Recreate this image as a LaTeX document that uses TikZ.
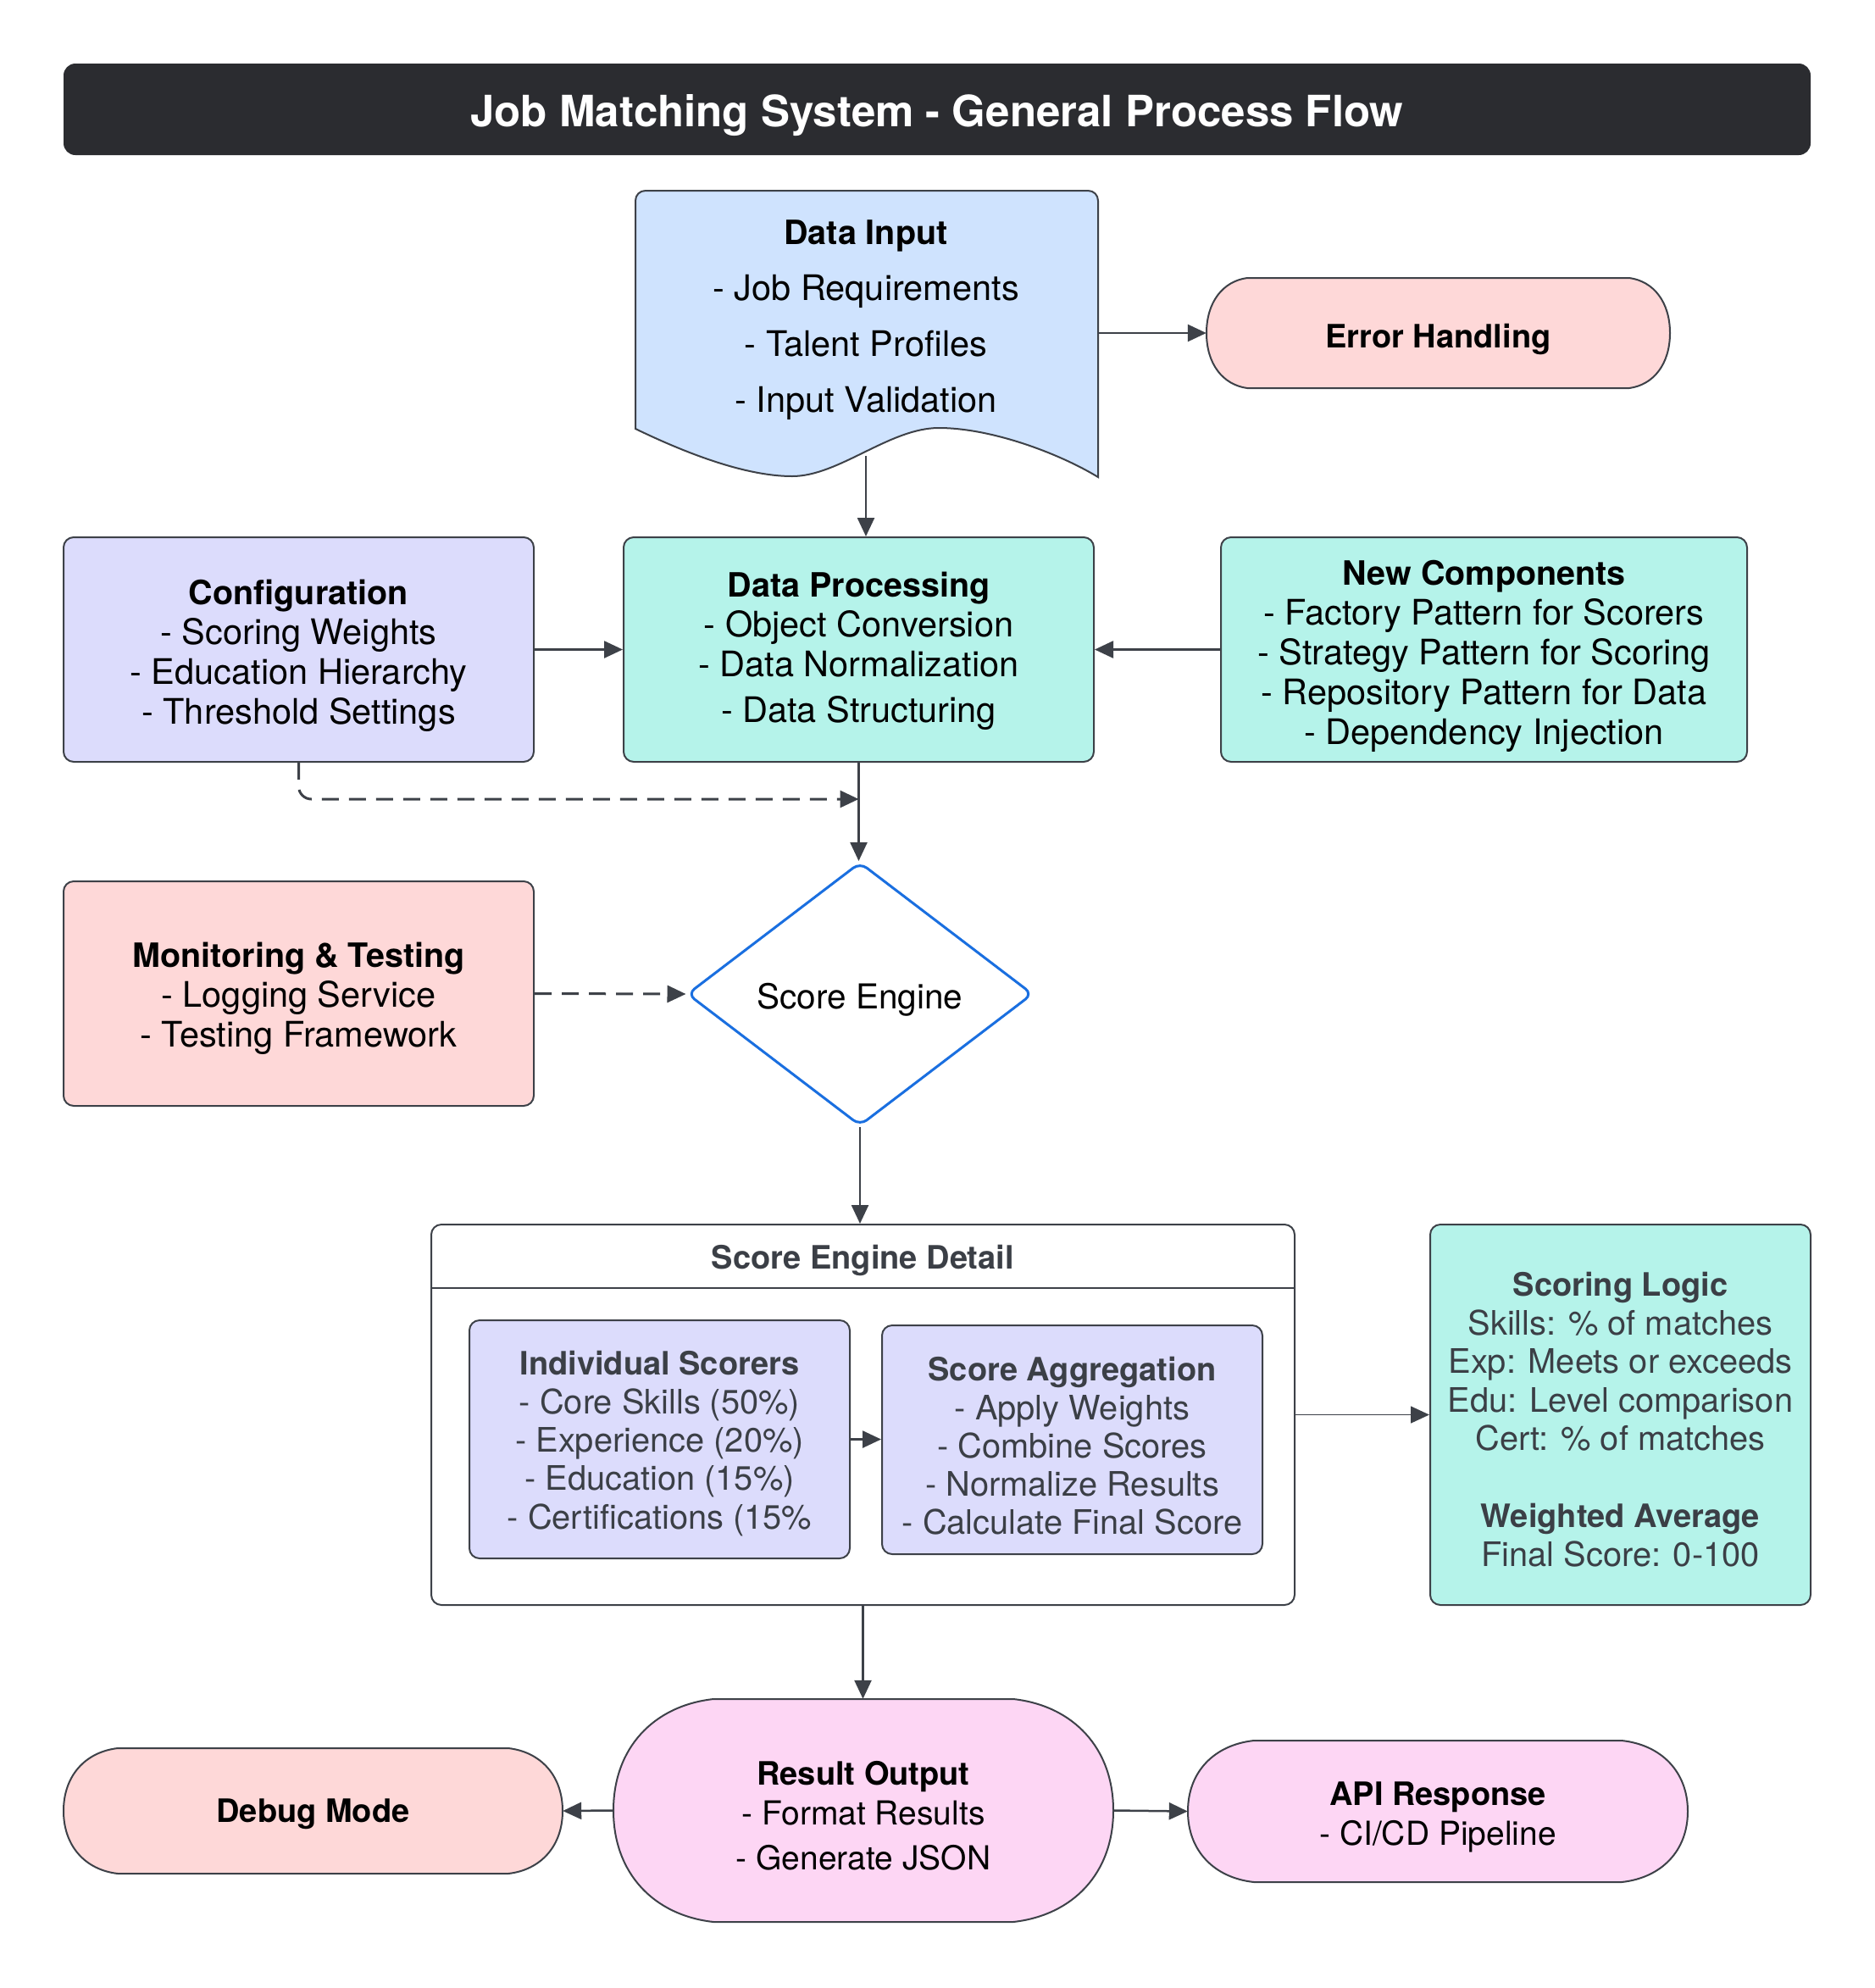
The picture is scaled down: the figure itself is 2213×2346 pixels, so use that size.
\documentclass[tikz,border=0pt]{standalone}
\usepackage{fontspec}
\setmainfont{TeX Gyre Heros}
\usetikzlibrary{arrows.meta,shapes.geometric}
\definecolor{titlebg}{HTML}{2B2C30}
\definecolor{linec}{HTML}{3D4148}
\definecolor{dinput}{HTML}{CFE3FE}
\definecolor{pinkc}{HTML}{FED8D8}
\definecolor{lavc}{HTML}{DCDCFC}
\definecolor{mintc}{HTML}{B5F3EA}
\definecolor{magc}{HTML}{FDD6F4}
\definecolor{bluec}{HTML}{1A6FE0}
\definecolor{greytext}{HTML}{3B3F46}
\newcommand\stadshape[6]{% x1,y1,x2,y2,b,fill
 \path[stadline, fill=#6] ({#1+#5},#2) -- ({#3-#5},#2)
 .. controls ({#3-0.4*#5},{#2+0.03*(#4-#2)}) and (#3,{#2+0.22*(#4-#2)}) .. (#3,{(#2+#4)/2})
 .. controls (#3,{#4-0.22*(#4-#2)}) and ({#3-0.4*#5},{#4-0.03*(#4-#2)}) .. ({#3-#5},#4)
 -- ({#1+#5},#4)
 .. controls ({#1+0.4*#5},{#4-0.03*(#4-#2)}) and (#1,{#4-0.22*(#4-#2)}) .. (#1,{(#2+#4)/2})
 .. controls (#1,{#2+0.22*(#4-#2)}) and ({#1+0.4*#5},{#2+0.03*(#4-#2)}) .. cycle;}
% headings in bold at their own sizes
\newcommand\hd[1]{{\fontsize{39.5pt}{47pt}\selectfont\bfseries #1}}
\newcommand\shd[1]{{\fontsize{38pt}{47pt}\selectfont\bfseries #1}}
\newcommand\ihd[1]{{\fontsize{38pt}{45.3pt}\selectfont\bfseries #1}}
\tikzset{
 boxtxt/.style={inner sep=0pt, align=center, font=\fontsize{41.5pt}{47pt}\selectfont},
 stadtxt/.style={boxtxt, font=\fontsize{39pt}{47pt}\selectfont},
 innertxt/.style={boxtxt, text=greytext, font=\fontsize{39.8pt}{45.3pt}\selectfont},
 box/.style={draw=linec, line width=2pt, rounded corners=12pt, inner sep=0pt},
 stadline/.style={draw=linec, line width=2pt},
 conn/.style={draw=linec, line width=2.5pt, -{Triangle[length=22pt,width=20pt]}},
 dconn/.style={conn, line width=3pt, dash pattern=on 20pt off 12pt},
}
\begin{document}
\begin{tikzpicture}[x=1pt,y=-1pt]
\useasboundingbox (0,0) rectangle (2213,2346);
\fill[white] (0,0) rectangle (2213,2346);

% title
\node[fill=titlebg, rounded corners=14pt, minimum width=2062pt, minimum height=108pt, inner sep=0pt] (title) at (1106,129) {};
\node[boxtxt, text=white, font=\bfseries\fontsize{51pt}{56pt}\selectfont] (titlet) at (1106,136)
      {Job Matching System - General Process Flow};

% data input document
\path[draw=linec, line width=2pt, fill=dinput] (750,506) -- (750,237)
  .. controls (750,230) and (755,225) .. (762,225) -- (1284,225)
  .. controls (1291,225) and (1296,230) .. (1296,237) -- (1296,563)
  .. controls (1250,535) and (1170,505) .. (1108,505)
  .. controls (1050,505) and (990,562) .. (935,562)
  .. controls (880,562) and (810,535) .. (750,506) -- cycle;
\node[boxtxt, font=\fontsize{41.5pt}{66pt}\selectfont] (di) at (1022,378)
  {\hd{Data Input}\\- Job Requirements\\- Talent Profiles\\- Input Validation};
\coordinate (dieast) at (1296,393);
\coordinate (dibot) at (1022,538);

% error handling
\stadshape{1424}{328}{1971}{458}{48}{pinkc}
\node[inner sep=0pt, minimum width=547pt, minimum height=130pt] (err) at (1697.5,393) {};
\node[stadtxt] (errt) at (1697.5,400) {\shd{Error Handling}};

% row 2
\node[box, fill=lavc, minimum width=555pt, minimum height=265pt] (cfg) at (352.5,766.5) {};
\node[boxtxt] (cfgt) at (352.5,773.5)
  {\hd{Configuration}\\- Scoring Weights\\- Education Hierarchy\\- Threshold Settings};
\node[box, fill=mintc, minimum width=555pt, minimum height=265pt] (dp) at (1013.5,766.5) {};
\node[boxtxt] (dpt) at (1013.5,768.5)
  {\hd{Data Processing}\\- Object Conversion\\- Data Normalization\\[7pt]- Data Structuring};
\node[box, fill=mintc, minimum width=621pt, minimum height=265pt] (nc) at (1751.5,766.5) {};
\node[boxtxt] (nct) at (1751.5,774.5)
  {\hd{New Components}\\- Factory Pattern for Scorers\\- Strategy Pattern for Scoring\\- Repository Pattern for Data\\- Dependency Injection};

% row 3
\node[box, fill=pinkc, minimum width=555pt, minimum height=265pt] (mon) at (352.5,1172.5) {};
\node[boxtxt] (mont) at (352.5,1178.5)
  {\hd{Monitoring \& Testing}\\- Logging Service\\- Testing Framework};
\node[shape=diamond, draw=bluec, line width=3pt, rounded corners=10pt, fill=white, inner sep=0pt,
      minimum width=408pt, minimum height=311pt] (se) at (1015,1173) {};
\node[boxtxt, font=\fontsize{40.5pt}{47pt}\selectfont] (set) at (1015,1180) {Score Engine};

% score engine detail
\node[box, fill=white, minimum width=1019pt, minimum height=449pt] (sed) at (1018.5,1669.5) {};
\draw[linec, line width=2pt] (509,1520) -- (1528,1520);
\node[innertxt] (sedt) at (1018.5,1487) {\ihd{Score Engine Detail}};
\node[box, fill=lavc, minimum width=449pt, minimum height=281pt] (is) at (778.5,1698.5) {};
\node[innertxt] (ist) at (778.5,1703.5)
  {\ihd{Individual Scorers}\\- Core Skills (50\%)\\- Experience (20\%)\\- Education (15\%)\\- Certifications (15\%};
\node[box, fill=lavc, minimum width=449pt, minimum height=270pt] (sa) at (1265.5,1699) {};
\node[innertxt] (sat) at (1265.5,1706.5)
  {\ihd{Score Aggregation}\\- Apply Weights\\- Combine Scores\\- Normalize Results\\- Calculate Final Score};
\node[box, fill=mintc, minimum width=449pt, minimum height=449pt] (sl) at (1912.5,1669.5) {};
\node[innertxt, font=\fontsize{39.8pt}{45.5pt}\selectfont] (slt) at (1912.5,1675)
  {\ihd{Scoring Logic}\\Skills: \% of matches\\Exp: Meets or exceeds\\Edu: Level comparison\\Cert: \% of matches\\[45.5pt]\ihd{Weighted Average}\\Final Score: 0-100};

% bottom row
\stadshape{75}{2063}{664}{2211}{64}{pinkc}
\node[inner sep=0pt, minimum width=589pt, minimum height=148pt] (dbg) at (369.5,2137) {};
\node[stadtxt] (dbgt) at (369.5,2141) {\shd{Debug Mode}};
\stadshape{724}{2005}{1314}{2268}{118}{magc}
\node[inner sep=0pt, minimum width=590pt, minimum height=263pt] (ro) at (1019,2136.5) {};
\node[stadtxt] (rot) at (1019,2143)
  {\shd{Result Output}\\- Format Results\\[6pt]- Generate JSON};
\stadshape{1402}{2054}{1992}{2221}{78}{magc}
\node[inner sep=0pt, minimum width=590pt, minimum height=167pt] (api) at (1697,2137.5) {};
\node[stadtxt] (apit) at (1697,2144.5)
  {\shd{API Response}\\- CI/CD Pipeline};

% connectors
\draw[conn] (dieast) -- (err.west);
\draw[conn] (dibot) -- (dibot |- dp.north);
\draw[conn] (cfg.east) -- (dp.west);
\draw[conn] (nc.west) -- (dp.east);
\draw[dconn, rounded corners=15pt] (cfg.south) -- (cfg.south |- 0,943) -- (dp.south |- 0,943);
\draw[conn] (dp.south) -- (dp.south |- se.north);
\draw[dconn] (mon.east) -- (se.west);
\draw[conn] (se.south) -- (se.south |- sed.north);
\draw[conn] (is.east) -- (is.east -| sa.west);
\draw[conn, line width=1.5pt] (sed.east) -- (sed.east -| sl.west);
\draw[conn] (sed.south) -- (sed.south |- ro.north);
\draw[conn] (ro.west) -- (dbg.east);
\draw[conn] (ro.east) -- (api.west);
\end{tikzpicture}
\end{document}
